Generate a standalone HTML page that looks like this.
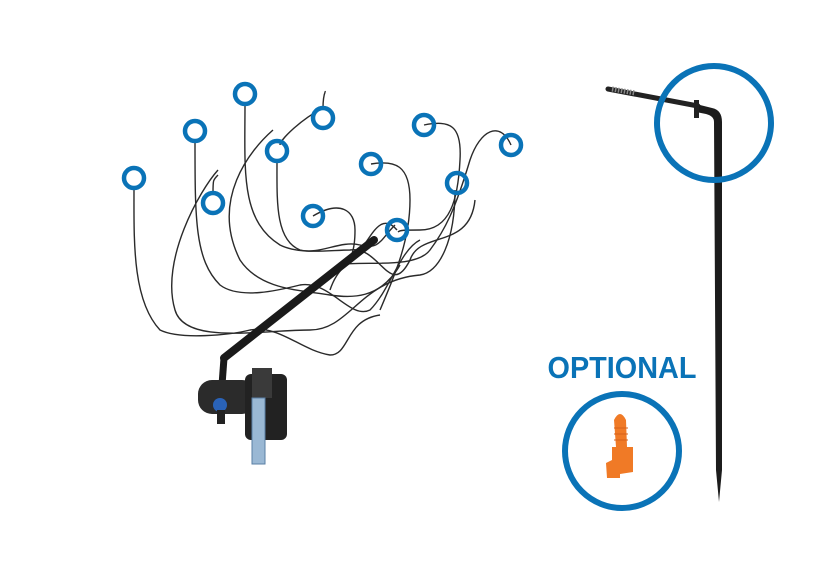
<!DOCTYPE html>
<html><head><meta charset="utf-8"><style>
html,body{margin:0;padding:0;background:#fff;}
svg{display:block}
</style></head><body>
<svg width="840" height="571" viewBox="0 0 840 571" xmlns="http://www.w3.org/2000/svg">
<g fill="none" stroke="#2a2a2a" stroke-width="1.4">
<path d="M134,188 C134,240 132,300 160,330 C180,340 230,335 250,330 C280,325 300,350 330,355 C350,355 345,320 380,315"/>
<path d="M195,141 C195,220 195,260 220,285 C240,300 280,290 300,285 C330,280 350,320 370,310 C390,290 400,250 420,240"/>
<path d="M245,104 C245,170 240,220 280,245 C300,255 330,250 350,250 C380,245 390,300 410,260 C420,230 470,250 475,200"/>
<path d="M218,170 C200,190 160,260 175,310 C185,345 260,330 310,330 C350,330 360,280 420,275 C440,272 455,240 455,190"/>
<path d="M213,193 C213,180 213,180 218,175"/>
<path d="M273,130 C250,150 210,200 240,260 C260,290 300,290 330,295 C350,298 380,300 400,265"/>
<path d="M277,161 C277,200 275,240 300,250 C320,255 340,240 360,245 C380,250 380,240 395,225"/>
<path d="M323,108 C300,120 280,140 280,145"/>
<path d="M323,108 C323,95 326,90 325,92"/>
<path d="M313,216 C340,200 355,210 355,230 C355,270 340,260 330,290"/>
<path d="M371,164 C395,160 410,165 410,200 C410,240 395,275 380,310"/>
<path d="M424,125 C450,120 462,125 460,160 C458,200 450,230 420,230 C405,230 400,230 398,232"/>
<path d="M511,145 C500,120 480,130 470,160 C455,210 445,230 430,250 C415,270 360,260 340,265"/>
<path d="M397,230 C380,210 370,240 360,250"/>
</g>
<line x1="224" y1="358" x2="374" y2="240" stroke="#1a1a1a" stroke-width="8" stroke-linecap="round"/>
<line x1="224" y1="358" x2="222" y2="385" stroke="#1a1a1a" stroke-width="7"/>
<rect x="198" y="380" width="58" height="34" rx="14" fill="#2b2b2b"/>
<rect x="245" y="374" width="42" height="66" rx="6" fill="#222"/>
<rect x="252" y="368" width="20" height="30" fill="#3a3a3a"/>
<rect x="252" y="398" width="13" height="66" fill="#9ab8d4" stroke="#5a7fa5"/>
<circle cx="220" cy="405" r="7" fill="#2a63b8"/>
<rect x="217" y="410" width="8" height="14" fill="#222"/>
<g fill="none" stroke="#0a73b7" stroke-width="4.5">
<circle cx="134" cy="178" r="10"/><circle cx="195" cy="131" r="10"/>
<circle cx="245" cy="94" r="10"/><circle cx="323" cy="118" r="10"/>
<circle cx="277" cy="151" r="10"/><circle cx="213" cy="203" r="10"/>
<circle cx="313" cy="216" r="10"/><circle cx="371" cy="164" r="10"/>
<circle cx="424" cy="125" r="10"/><circle cx="511" cy="145" r="10"/>
<circle cx="457" cy="183" r="10"/><circle cx="397" cy="230" r="10"/>
</g>
<path d="M608,89 L698,106" stroke="#222" stroke-width="5" stroke-linecap="round"/>
<path d="M612,89 L635,93" stroke="#888" stroke-width="5" stroke-dasharray="1.5 1.5"/>
<path d="M696,104 L712,108 Q722,110 722,122 L722,470 L719,502 L716,470 L714,122 Q714,116 706,114 L696,112 Z" fill="#1c1c1c"/>
<rect x="694" y="100" width="5" height="18" fill="#222"/>
<circle cx="714" cy="123" r="57" fill="none" stroke="#0a73b7" stroke-width="6"/>
<text x="622" y="378" text-anchor="middle" font-family="Liberation Sans, sans-serif" font-weight="bold" font-size="31" fill="#0a73b7" transform="translate(622 0) scale(0.93 1) translate(-622 0)">OPTIONAL</text>
<circle cx="622" cy="451" r="57" fill="none" stroke="#0a73b7" stroke-width="6"/>
<path d="M614,420 Q620,408 626,420 L627,447 L633,447 L633,472 L620,474 L620,478 L607,478 L606,463 L612,460 L612,447 L616,447 Z" fill="#f07a26"/>
<g stroke="#d6601a" stroke-width="1"><line x1="614" y1="428" x2="628" y2="428"/><line x1="614" y1="434" x2="628" y2="434"/><line x1="614" y1="440" x2="628" y2="440"/></g>
</svg>
</body></html>
